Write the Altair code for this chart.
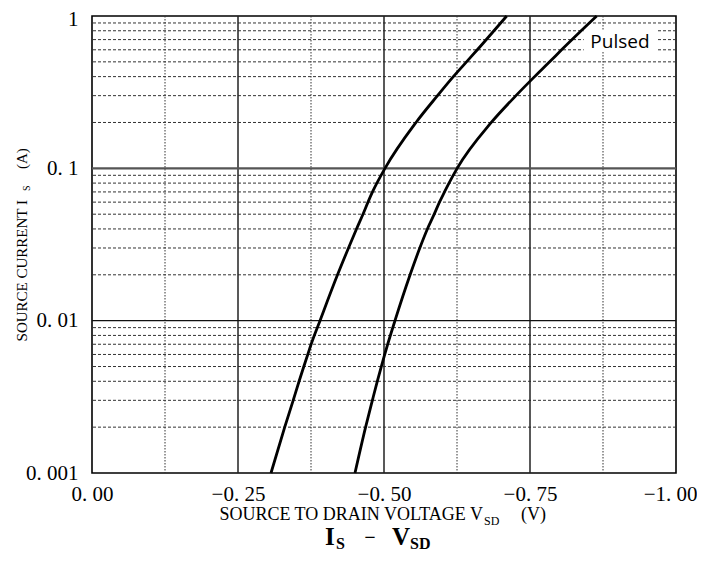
import altair as alt
import pandas as pd

# ---- data ----
series_names = ["curve 1", "curve 2"]
v_1 = [-0.3065, -0.3300, -0.3445, -0.3546, -0.3627, -0.3695, -0.3752, -0.3904, -0.4204, -0.4392,
       -0.4529, -0.4640, -0.4726, -0.4803, -0.5017, -0.5548, -0.5916, -0.6187, -0.6413, -0.6598, -0.7101]
i_1 = [0.001, 0.002, 0.003, 0.004, 0.005, 0.006, 0.007, 0.01, 0.02, 0.03,
       0.04, 0.05, 0.06, 0.07, 0.1, 0.2, 0.3, 0.4, 0.5, 0.6, 1.0]
v_2 = [-0.4503, -0.4685, -0.4801, -0.4885, -0.4954, -0.5063, -0.5188, -0.5447, -0.5613, -0.5743,
       -0.5860, -0.5950, -0.6036, -0.6113, -0.6252, -0.6837, -0.7259, -0.7579, -0.7836, -0.8041, -0.8642]
i_2 = [0.001, 0.002, 0.003, 0.004, 0.005, 0.007, 0.01, 0.02, 0.03, 0.04,
       0.05, 0.06, 0.07, 0.08, 0.1, 0.2, 0.3, 0.4, 0.5, 0.6, 1.0]

x_ticks = [0.0, -0.25, -0.5, -0.75, -1.0]
x_tick_labels = ["0. 00", "−0. 25", "−0. 50", "−0. 75", "−1. 00"]
y_ticks = [0.001, 0.01, 0.1, 1.0]
y_tick_labels = ["0. 001", "0. 01", "0. 1", "1"]

x_major_grid = [-0.25, -0.5, -0.75]
x_minor_grid = [-0.125, -0.375, -0.625, -0.875]
y_major_grid_thin = [0.01]
y_major_grid_thick = [0.1]
y_minor_grid = [0.002, 0.003, 0.004, 0.005, 0.006, 0.007, 0.008, 0.009,
                0.02, 0.03, 0.04, 0.05, 0.06, 0.07, 0.08, 0.09,
                0.2, 0.3, 0.4, 0.5, 0.6, 0.7, 0.8, 0.9]

note_text = ["Pulsed"]
note_v = [-0.904]
note_i = [0.68]
note_box_v = [-0.842, -0.966]
note_box_i = [0.58, 0.81]

SERIF = "Liberation Serif"

rows = []
for name, vs, iss in [(series_names[0], v_1, i_1), (series_names[1], v_2, i_2)]:
    for k, (v, i) in enumerate(zip(vs, iss)):
        rows.append({"series": name, "V": v, "I": i, "idx": k})
curves = pd.DataFrame(rows)


def label_expr(vals, labels):
    expr = "''"
    for v, l in reversed(list(zip(vals, labels))):
        expr = f"abs(datum.value - ({v})) < 1e-9 ? '{l}' : {expr}"
    return expr


xscale = alt.Scale(domain=[-1.0, 0.0], reverse=True, nice=False, zero=False)
yscale = alt.Scale(type="log", domain=[0.001, 1.0], nice=False)

last_x = "datum.value < -0.99"
top_y = "datum.value > 0.99"
xaxis = alt.Axis(values=x_ticks, labelExpr=label_expr(x_ticks, x_tick_labels), grid=False,
                 ticks=False, tickSize=0, domain=False, labelFont=SERIF, labelFontSize=21,
                 labelColor="black", labelPadding=10, labelFlush=False, labelOverlap=False,
                 labelAlign={"condition": {"test": last_x, "value": "right"}, "value": "center"},
                 labelOffset={"condition": {"test": last_x, "value": 21}, "value": 0})
yaxis = alt.Axis(values=y_ticks, labelExpr=label_expr(y_ticks, y_tick_labels), grid=False,
                 ticks=False, tickSize=0, domain=False, labelFont=SERIF, labelFontSize=21,
                 labelColor="black", labelPadding=14, labelFlush=False, labelOverlap=False,
                 labelOffset={"condition": {"test": top_y, "value": 3}, "value": 0})


def X(field="V"):
    return alt.X(f"{field}:Q", scale=xscale, axis=xaxis, title=None)


def Y(field="I"):
    return alt.Y(f"{field}:Q", scale=yscale, axis=yaxis, title=None)


grid_xmin = alt.Chart(pd.DataFrame({"V": x_minor_grid})).mark_rule(
    color="#333", strokeWidth=1, strokeDash=[1.5, 1.5]).encode(x=X())
grid_ymin = alt.Chart(pd.DataFrame({"I": y_minor_grid})).mark_rule(
    color="#333", strokeWidth=1, strokeDash=[3, 2]).encode(y=Y())
grid_xmaj = alt.Chart(pd.DataFrame({"V": x_major_grid})).mark_rule(
    color="#222", strokeWidth=1.5).encode(x=X())
grid_ythin = alt.Chart(pd.DataFrame({"I": y_major_grid_thin})).mark_rule(
    color="#111", strokeWidth=1.2).encode(y=Y())
grid_ythick = alt.Chart(pd.DataFrame({"I": y_major_grid_thick})).mark_rule(
    color="#555", strokeWidth=2.2).encode(y=Y())

box = alt.Chart(pd.DataFrame({"V": [note_box_v[0]], "V2": [note_box_v[1]],
                              "I": [note_box_i[0]], "I2": [note_box_i[1]]})).mark_rect(
    fill="white").encode(x=X(), x2="V2:Q", y=Y(), y2="I2:Q")

lines = alt.Chart(curves).mark_line(color="black", strokeWidth=2.8, interpolate="monotone").encode(
    x=X(), y=Y(), detail="series:N", order="idx:Q")

note = alt.Chart(pd.DataFrame({"V": note_v, "I": note_i, "t": note_text})).mark_text(
    font="Open Sans", fontSize=19, color="black", align="center", baseline="middle").encode(
    x=X(), y=Y(), text="t:N")


def txt(text, x, y, size, align="left", bold=False, angle=0):
    return alt.Chart(alt.Data(values=[{}])).mark_text(
        text=text, align=align, baseline="alphabetic", fontSize=size,
        fontWeight="bold" if bold else "normal", angle=angle, font=SERIF, color="black"
    ).encode(x=alt.value(x), y=alt.value(y))


texts = [
    # x axis title
    txt("SOURCE TO DRAIN VOLTAGE V", 391, 504, 18, align="right"),
    txt("SD", 392, 509, 12),
    txt("(V)", 429, 504, 18),
    # y axis title
    txt("SOURCE CURRENT I", -65, 184, 15, align="right", angle=270),
    txt("S", -62, 175, 10, angle=270),
    txt("(A)", -65, 153, 15, angle=270),
    # chart caption
    txt("I", 233, 529, 25, bold=True),
    txt("S", 244, 533, 16, bold=True),
    txt("−", 278, 528, 20, align="center", bold=True),
    txt("V", 300, 529, 25, bold=True),
    txt("SD", 318, 533, 16, bold=True),
]

chart = alt.layer(grid_xmin, grid_ymin, grid_xmaj, grid_ythin, grid_ythick, box, lines, note,
                  *texts).properties(
    width=584, height=457,
    autosize=alt.AutoSizeParams(type="none"),
    padding={"left": 84, "top": 8, "right": 21, "bottom": 80},
).configure_view(stroke="black", strokeWidth=1.6)

chart.save("out.html", embed_options={"renderer": "svg", "actions": False})
